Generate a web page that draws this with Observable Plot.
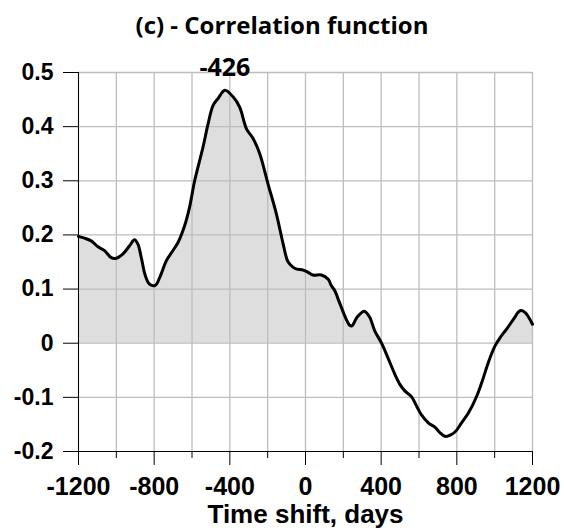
<!DOCTYPE html>
<html>
<head>
<meta charset="utf-8">
<script src="https://cdn.jsdelivr.net/npm/d3@7"></script>
<script src="https://cdn.jsdelivr.net/npm/@observablehq/plot@0.6"></script>
<style>
  html, body { margin: 0; padding: 0; background: #fff; }
  #title { width: 564px; height: 50px; text-align: center; font-family: "Open Sans", sans-serif; font-weight: 700; font-size: 24px; line-height: 50px; color: #000; box-sizing: border-box; padding-top: 0px; }
  #chart svg { display: block; }
</style>
</head>
<body>
<div id="title">(c) - Correlation function</div>
<div id="chart"></div>
<script>
const shiftDays = [-1200,-1168,-1133,-1097,-1062,-1027,-1000,-965,-930,-904,-886,-868,-847,-824,-794,-771,-736,-709,-674,-640,-613,-586,-542,-515,-489,-462,-426,-383,-348,-312,-277,-242,-198,-154,-118,-95,-80,-55,-12,14,40,84,120,137,155,173,190,208,234,245,270,285,310,338,366,402,437,472,499,525,561,587,614,649,684,710,737,763,790,825,861,905,940,966,1002,1028,1063,1099,1134,1160,1200];
const corrValues = [0.197,0.194,0.189,0.178,0.171,0.158,0.157,0.165,0.180,0.191,0.183,0.158,0.125,0.109,0.107,0.121,0.152,0.167,0.186,0.216,0.251,0.300,0.362,0.405,0.439,0.452,0.467,0.455,0.436,0.396,0.378,0.350,0.294,0.239,0.183,0.152,0.145,0.138,0.135,0.131,0.126,0.126,0.118,0.106,0.097,0.081,0.066,0.050,0.033,0.032,0.047,0.053,0.059,0.049,0.023,0.000,-0.028,-0.057,-0.076,-0.088,-0.099,-0.116,-0.133,-0.147,-0.155,-0.165,-0.172,-0.170,-0.164,-0.147,-0.129,-0.098,-0.064,-0.036,-0.005,0.010,0.026,0.044,0.060,0.057,0.035];
const xMajorTicks = [-1200,-800,-400,0,400,800,1200];
const xMinorTicks = [-1000,-600,-200,200,600,1000];
const xGrid = [-1200,-1000,-800,-600,-400,-200,0,200,400,600,800,1000,1200];
const yTicks = [-0.2,-0.1,0,0.1,0.2,0.3,0.4,0.5];
const peakLabel = {x: -426, y: 0.5, text: "-426"};
const xLabel = "Time shift, days";

const data = shiftDays.map((d, i) => ({shift: d, corr: corrValues[i]}));
const fmtY = d => d === 0 ? "0" : (d < 0 ? "-" : "") + Math.abs(d).toFixed(1);
const fmtX = d => d < 0 ? "-" + Math.abs(d) : String(d);

const chart = Plot.plot({
  width: 564,
  height: 480,
  marginLeft: 78,
  marginRight: 32,
  marginTop: 22,
  marginBottom: 79,
  style: {fontFamily: "'Liberation Sans', Arial, sans-serif", color: "#000", background: "#fff", overflow: "visible"},
  x: {domain: [-1200, 1200]},
  y: {domain: [-0.2, 0.5]},
  marks: [
    Plot.areaY(data, {x: "shift", y1: 0, y2: d => Math.max(0, d.corr), fill: "#dedede", curve: "catmull-rom"}),
    Plot.ruleX(xGrid, {stroke: "#bdbdbd", strokeWidth: 1.3}),
    Plot.ruleY(yTicks.filter(v => v > -0.2), {stroke: "#bdbdbd", strokeWidth: 1.3}),
    Plot.ruleX([-1200], {stroke: "#000", strokeWidth: 1}),
    Plot.ruleY([-0.2], {stroke: "#000", strokeWidth: 1}),
    Plot.lineY(data, {x: "shift", y: "corr", stroke: "#000", strokeWidth: 3, curve: "catmull-rom"}),
    Plot.axisY({ticks: yTicks, tickFormat: fmtY, tickSize: 15, tickPadding: 10, fontSize: 23, fontWeight: "bold", label: null}),
    Plot.axisX({ticks: xMajorTicks, tickFormat: fmtX, tickSize: 14, tickPadding: 12, fontSize: 25, fontWeight: "bold", label: null}),
    Plot.axisX({ticks: xMinorTicks, tickSize: 7, text: null, label: null}),
    Plot.text([peakLabel], {x: "x", y: "y", text: "text", dy: -5, fontSize: 25, fontWeight: "bold", fontFamily: "'Open Sans', sans-serif", fill: "#000"}),
    Plot.text([xLabel], {x: 0, frameAnchor: "bottom", dy: 71, text: d => d, fontSize: 26, fontWeight: "bold", fill: "#000"})
  ]
});
document.getElementById("chart").appendChild(chart);
</script>
</body>
</html>
